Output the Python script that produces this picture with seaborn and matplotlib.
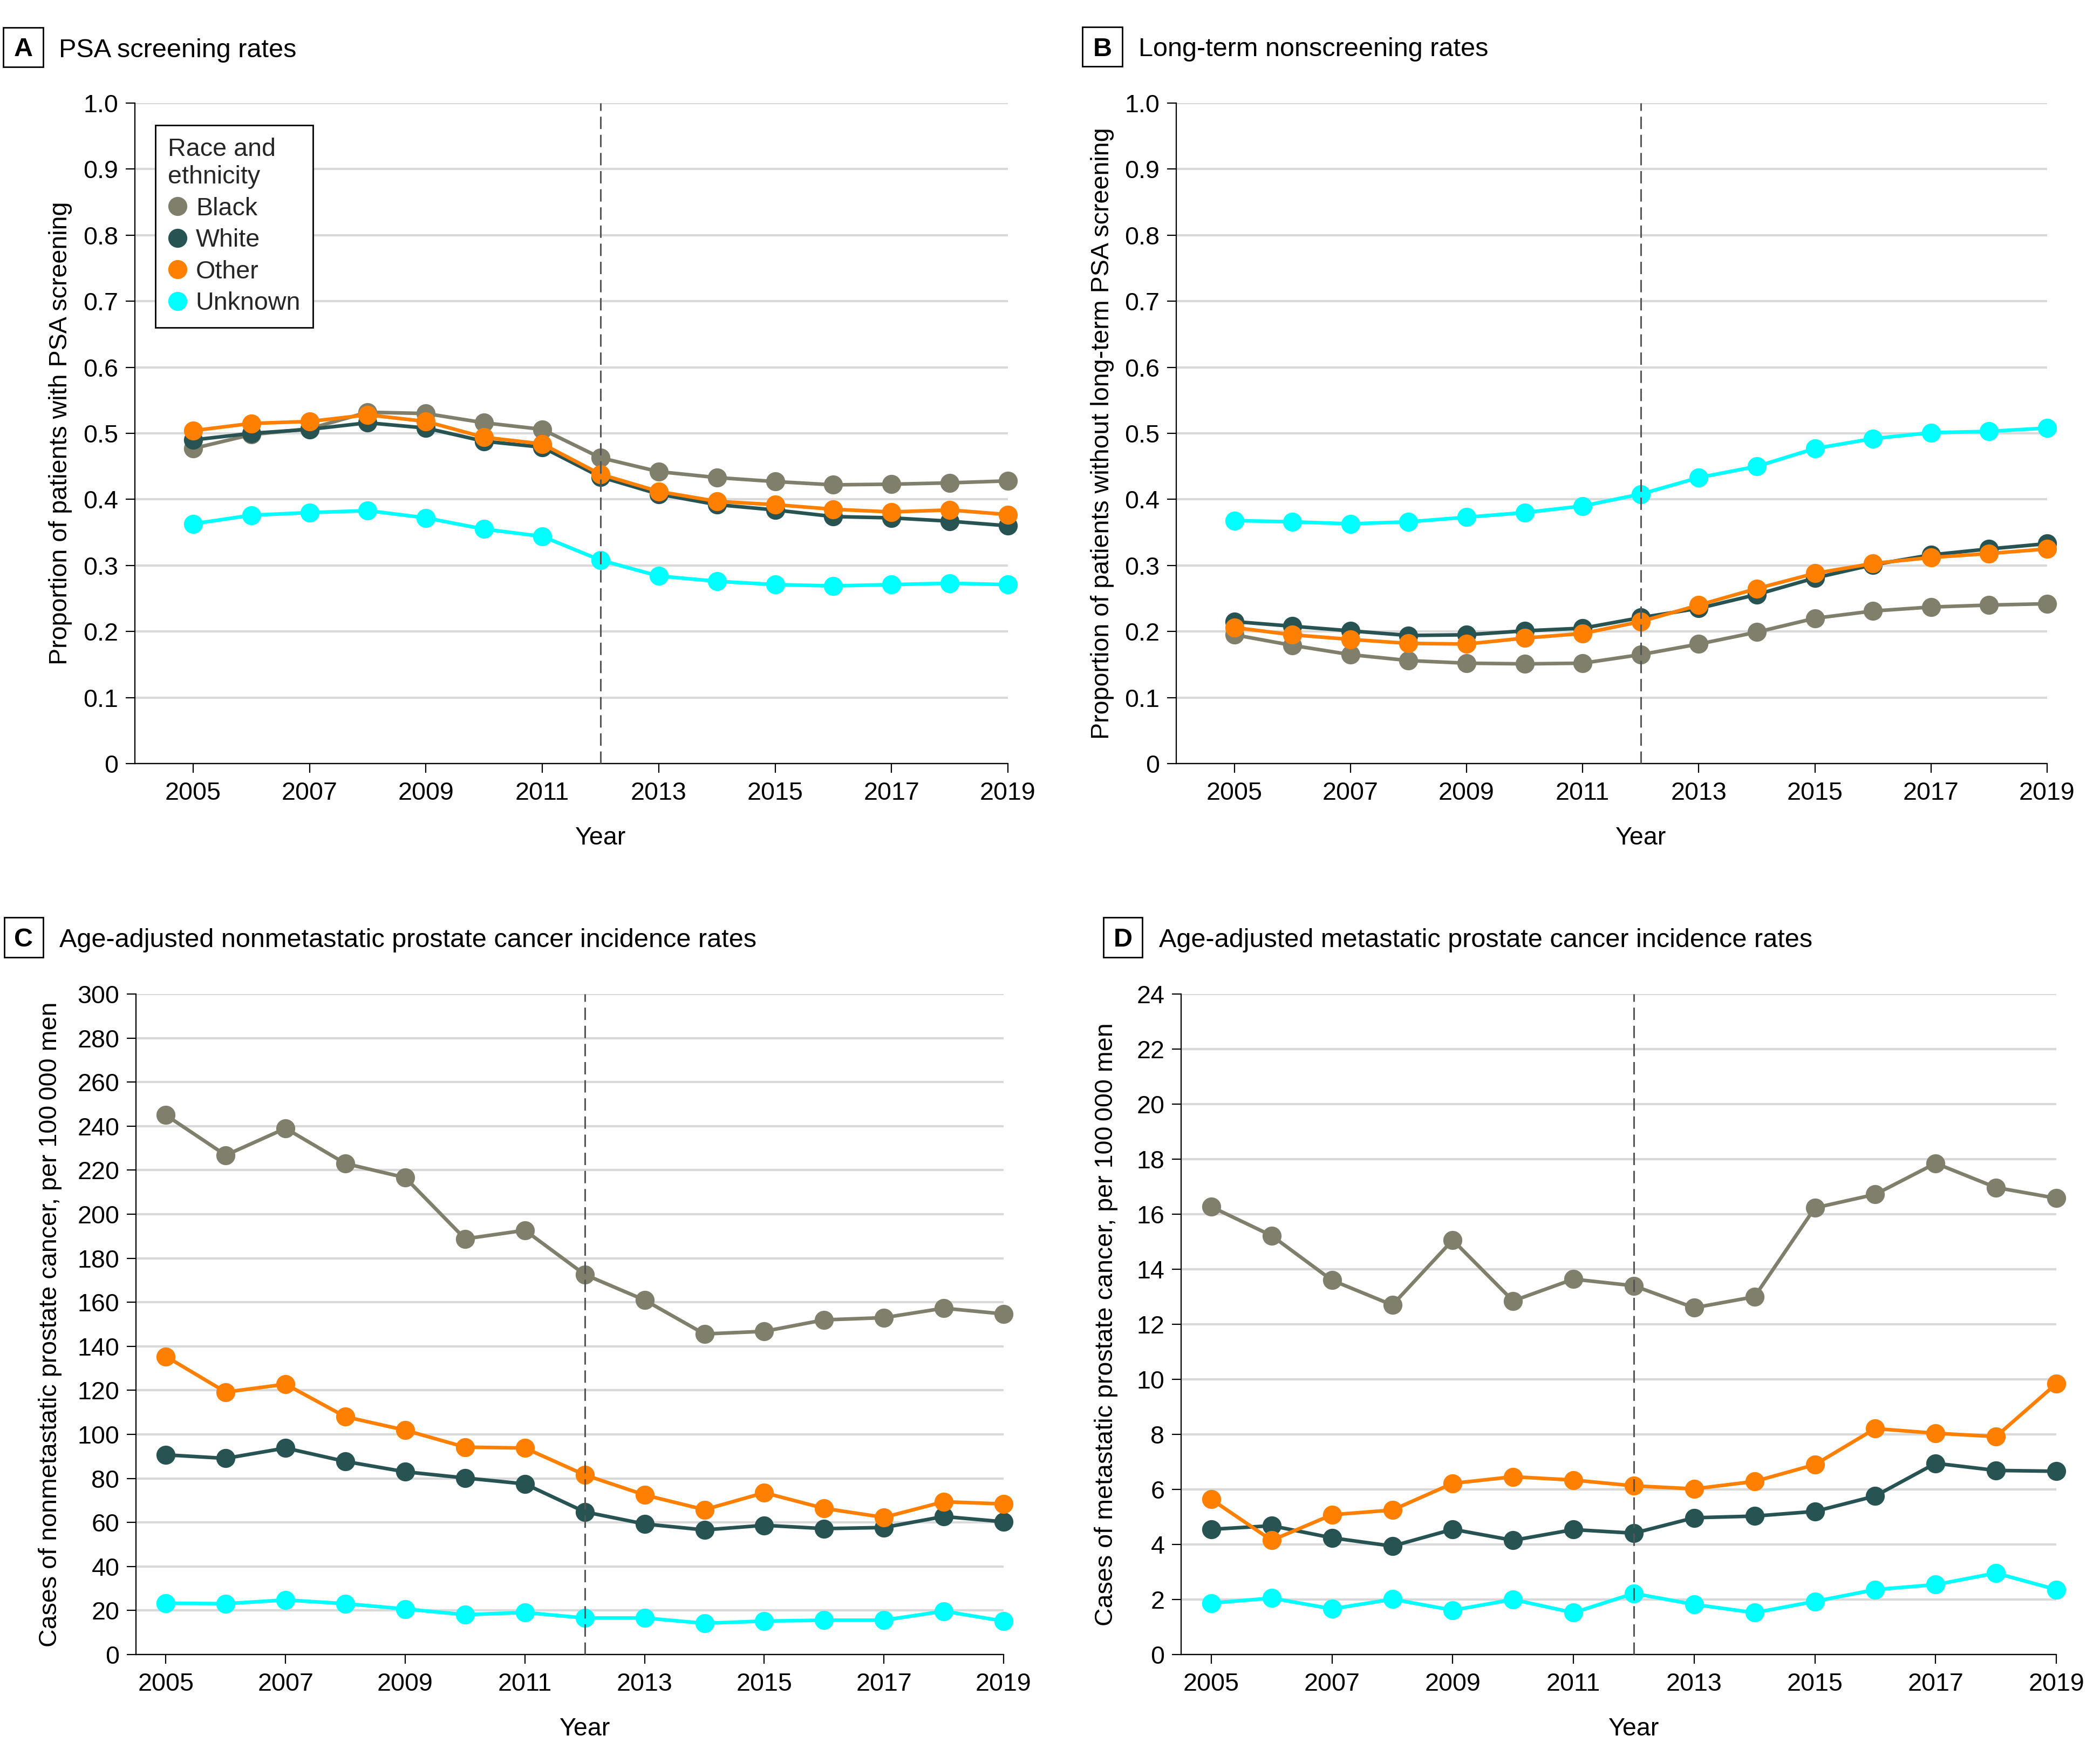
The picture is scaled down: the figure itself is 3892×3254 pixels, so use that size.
import numpy as np
import pandas as pd
import matplotlib
matplotlib.use("Agg")
import matplotlib.pyplot as plt
import seaborn as sns
from matplotlib.lines import Line2D
from matplotlib.patches import Rectangle

# ---------------- data ----------------
years = list(range(2005, 2020))
groups = ["Black", "White", "Other", "Unknown"]
colors = ["#807f6b", "#285353", "#ff8000", "#00ffff"]

# A: PSA screening rates
a_black = [0.477, 0.498, 0.507, 0.532, 0.530, 0.516, 0.506, 0.463, 0.442, 0.433, 0.427, 0.422, 0.423, 0.425, 0.428]
a_white = [0.490, 0.500, 0.506, 0.516, 0.508, 0.488, 0.479, 0.434, 0.408, 0.392, 0.384, 0.374, 0.372, 0.367, 0.360]
a_other = [0.504, 0.515, 0.518, 0.528, 0.518, 0.494, 0.484, 0.438, 0.412, 0.397, 0.392, 0.385, 0.381, 0.384, 0.377]
a_unknown = [0.363, 0.376, 0.380, 0.383, 0.372, 0.355, 0.344, 0.308, 0.284, 0.276, 0.271, 0.269, 0.271, 0.273, 0.271]

# B: Long-term nonscreening rates
b_black = [0.195, 0.179, 0.165, 0.156, 0.152, 0.151, 0.152, 0.165, 0.181, 0.199, 0.220, 0.231, 0.237, 0.240, 0.242]
b_white = [0.215, 0.208, 0.201, 0.194, 0.195, 0.201, 0.205, 0.221, 0.235, 0.256, 0.281, 0.301, 0.316, 0.325, 0.333]
b_other = [0.206, 0.195, 0.188, 0.182, 0.181, 0.190, 0.197, 0.215, 0.240, 0.265, 0.288, 0.303, 0.312, 0.318, 0.325]
b_unknown = [0.368, 0.366, 0.363, 0.366, 0.373, 0.380, 0.390, 0.408, 0.433, 0.450, 0.477, 0.492, 0.501, 0.503, 0.508]

# C: nonmetastatic incidence
c_black = [245.0, 226.8, 239.0, 223.0, 216.6, 188.8, 192.7, 172.6, 161.0, 145.6, 146.8, 152.0, 153.0, 157.3, 154.7]
c_white = [90.7, 89.1, 93.8, 87.7, 83.0, 80.2, 77.5, 64.8, 59.3, 56.6, 58.7, 57.2, 57.7, 62.7, 60.3]
c_other = [135.4, 119.2, 122.8, 108.0, 101.9, 94.2, 93.8, 81.6, 72.5, 65.8, 73.5, 66.4, 62.3, 69.4, 68.4]
c_unknown = [23.3, 23.1, 24.8, 23.1, 20.7, 18.1, 19.1, 16.6, 16.6, 14.2, 15.2, 15.6, 15.6, 19.7, 15.2]

# D: metastatic incidence
d_black = [16.27, 15.22, 13.60, 12.70, 15.06, 12.85, 13.64, 13.40, 12.60, 13.00, 16.23, 16.72, 17.85, 16.97, 16.58]
d_white = [4.55, 4.68, 4.24, 3.94, 4.55, 4.15, 4.54, 4.41, 4.97, 5.03, 5.20, 5.76, 6.95, 6.69, 6.66]
d_other = [5.64, 4.15, 5.08, 5.25, 6.22, 6.46, 6.34, 6.13, 6.02, 6.29, 6.90, 8.21, 8.04, 7.92, 9.84]
d_unknown = [1.87, 2.05, 1.66, 2.01, 1.61, 2.00, 1.52, 2.22, 1.82, 1.52, 1.93, 2.36, 2.54, 2.96, 2.36]

titles = ["PSA screening rates",
          "Long-term nonscreening rates",
          "Age-adjusted nonmetastatic prostate cancer incidence rates",
          "Age-adjusted metastatic prostate cancer incidence rates"]
letters = ["A", "B", "C", "D"]
ylabels = ["Proportion of patients with PSA screening",
           "Proportion of patients without long-term PSA screening",
           "Cases of nonmetastatic prostate cancer, per 100\u2009000 men",
           "Cases of metastatic prostate cancer, per 100\u2009000 men"]
xlabel = "Year"
legend_title = "Race and\nethnicity"

# ---------------- style ----------------
sns.set_style("white")
plt.rcParams["font.family"] = ["Liberation Sans", "DejaVu Sans"]
plt.rcParams["axes.unicode_minus"] = False

W, H = 3892, 3254
DPI = 200
fig = plt.figure(figsize=(W / DPI, H / DPI), dpi=DPI)

def fx(x):
    return x / W

def fy(y):
    return 1 - y / H

FS = 16.8
TFS = 17.5
LW = 2.4
MS = 12.7

panel_specs = [
    dict(l=250, r=1868, t=191, b=1415, x0=2004.0, ylim=(0, 1.0), yt=np.round(np.arange(0, 1.01, 0.1), 1),
         data=[a_black, a_white, a_other, a_unknown], fmt="dec",
         box=(6, 51, 80, 124), tx=109, base=106, ylx=-0.0717, xly=-0.095),
    dict(l=2180, r=3794, t=191, b=1415, x0=2004.0, ylim=(0, 1.0), yt=np.round(np.arange(0, 1.01, 0.1), 1),
         data=[b_black, b_white, b_other, b_unknown], fmt="dec",
         box=(2006, 50, 2080, 123), tx=2110, base=104, ylx=-0.0713, xly=-0.095),
    dict(l=252, r=1860, t=1842, b=3066, x0=2004.5, ylim=(0, 300), yt=np.arange(0, 301, 20),
         data=[c_black, c_white, c_other, c_unknown], fmt="int",
         box=(8, 1700, 80, 1774), tx=110, base=1755, ylx=-0.0852, xly=-0.095),
    dict(l=2189, r=3811, t=1842, b=3066, x0=2004.5, ylim=(0, 24), yt=np.arange(0, 25, 2),
         data=[d_black, d_white, d_other, d_unknown], fmt="int",
         box=(2045, 1700, 2117, 1774), tx=2148, base=1755, ylx=-0.0721, xly=-0.095),
]

for i, spec in enumerate(panel_specs):
    ax = fig.add_axes([fx(spec["l"]), fy(spec["b"]), (spec["r"] - spec["l"]) / W, (spec["b"] - spec["t"]) / H])
    rows = []
    for g, vals in zip(groups, spec["data"]):
        for yr, v in zip(years, vals):
            rows.append({"Year": yr, "Value": v, "Group": g})
    df = pd.DataFrame(rows)

    ax.set_axisbelow(True)
    ax.yaxis.grid(True, color="#d9d9d9", linewidth=1.5)
    ax.xaxis.grid(False)

    sns.lineplot(data=df, x="Year", y="Value", hue="Group", hue_order=groups,
                 palette=colors, marker="o", markersize=MS, markeredgewidth=0,
                 linewidth=LW, ax=ax, legend=False, errorbar=None, clip_on=False, zorder=3)

    ax.axvline(2012, color="#555555", linewidth=1.1, dashes=(7.5, 3.5), zorder=10)

    ax.set_xlim(spec["x0"], 2019)
    ax.set_ylim(*spec["ylim"])
    ax.set_xticks(list(range(2005, 2020, 2)))
    ax.set_yticks(spec["yt"])
    if spec["fmt"] == "dec":
        ax.set_yticklabels(["0" if v == 0 else f"{v:.1f}" for v in spec["yt"]])
    else:
        ax.set_yticklabels([f"{int(v)}" for v in spec["yt"]])

    for s in ["top", "right"]:
        ax.spines[s].set_visible(False)
    for s in ["left", "bottom"]:
        ax.spines[s].set_color("black")
        ax.spines[s].set_linewidth(0.8)
    ax.tick_params(axis="both", which="major", direction="out", length=6, width=0.8,
                   color="black", labelsize=FS, labelcolor="black")
    ax.tick_params(axis="y", pad=5)
    ax.tick_params(axis="x", pad=6)
    ax.tick_params(left=True, bottom=True)

    ax.set_xlabel(xlabel, fontsize=FS, color="black")
    ax.set_ylabel(ylabels[i], fontsize=FS, color="black")
    ax.xaxis.set_label_coords((2012 - spec["x0"]) / (2019 - spec["x0"]), spec["xly"])
    ax.yaxis.set_label_coords(spec["ylx"], 0.5)

    x0b, y0b, x1b, y1b = spec["box"]
    fig.add_artist(Rectangle((fx(x0b), fy(y1b)), (x1b - x0b) / W, (y1b - y0b) / H,
                             transform=fig.transFigure, fill=False, edgecolor="black", linewidth=1.0))
    fig.text(fx((x0b + x1b) / 2), fy((y0b + y1b) / 2 + 17), letters[i], fontsize=TFS,
             fontweight="bold", ha="center", va="baseline", color="black")
    fig.text(fx(spec["tx"]), fy(spec["base"]), titles[i], fontsize=TFS, ha="left",
             va="baseline", color="black")

    if i == 0:
        handles = [Line2D([], [], marker="o", linestyle="none", markersize=MS,
                          markerfacecolor=c, markeredgewidth=0) for c in colors]
        leg = ax.legend(handles, groups, title=legend_title, loc="upper left",
                        bbox_to_anchor=(0.0235, 0.9665), frameon=True, fancybox=False,
                        edgecolor="black", fontsize=FS, title_fontsize=FS,
                        borderpad=0.5, labelspacing=0.31, handlelength=0.75,
                        handletextpad=0.35, borderaxespad=0)
        leg._legend_box.align = "left"
        leg.get_frame().set_linewidth(1.0)
        leg.get_frame().set_alpha(1)
        leg.set_zorder(20)

fig.savefig("out.png", dpi=DPI, facecolor="white")
